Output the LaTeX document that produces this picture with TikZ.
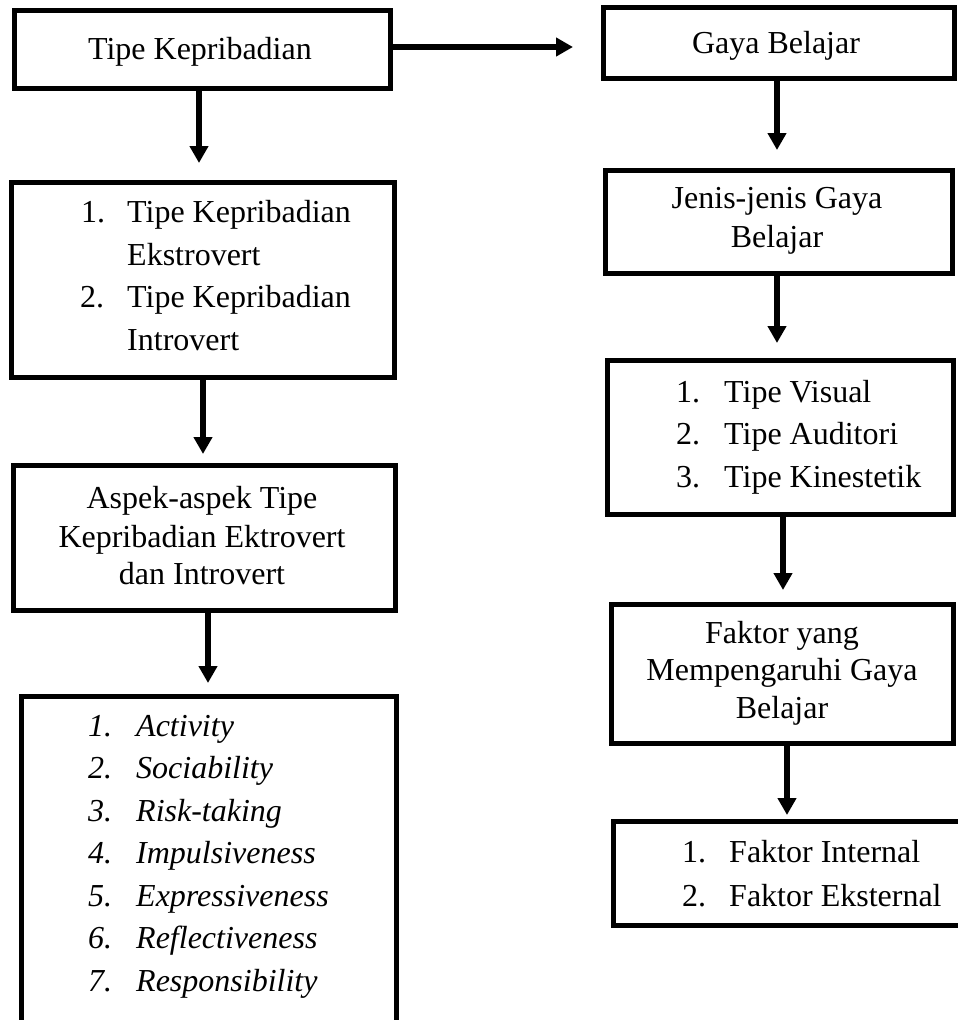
\documentclass[tikz,border=0pt]{standalone}
\usepackage{fontspec}
\setmainfont{Liberation Serif}
\usetikzlibrary{arrows.meta}
\tikzset{
  box/.style={draw=black, line width=5pt, inner sep=0pt},
  txt/.style={inner sep=0pt, font=\fontsize{32}{38}\selectfont},
  itxt/.style={inner sep=0pt, font=\fontsize{32}{38}\selectfont\itshape},
  arr/.style={line width=5.5pt, -{Triangle[width=18pt,length=17pt]}}
}
\begin{document}
\begin{tikzpicture}[x=1pt,y=-1pt]
\path[use as bounding box, fill=white] (0,0) rectangle (958,1020);

% left column boxes
\node[box, minimum width=376pt, minimum height=78pt] (b1) at (202.5,49.5) {};
\node[box, minimum width=383pt, minimum height=195pt] (b2) at (203,280) {};
\node[box, minimum width=382pt, minimum height=145pt] (b3) at (204.5,538) {};
\node[box, minimum width=375pt, minimum height=353.5pt] (b4) at (209,873.25) {};

% right column boxes
\node[box, minimum width=351pt, minimum height=71pt] (g1) at (779,43) {};
\node[box, minimum width=347pt, minimum height=103pt] (g2) at (779,222) {};
\node[box, minimum width=346pt, minimum height=154pt] (g3) at (780.5,437.5) {};
\node[box, minimum width=342pt, minimum height=139pt] (g4) at (782.5,674) {};
\node[box, minimum width=400pt, minimum height=104pt] (g5) at (813.5,873.5) {};

% texts, left column
\node[txt, anchor=base] (t1) at (200,59) {Tipe Kepribadian};

\node[txt, anchor=base west] (t2a) at (81,222) {1.};
\node[txt, anchor=base west] (t2b) at (127,222) {Tipe Kepribadian};
\node[txt, anchor=base west] (t2c) at (127,265) {Ekstrovert};
\node[txt, anchor=base west] (t2d) at (80,307) {2.};
\node[txt, anchor=base west] (t2e) at (127,307) {Tipe Kepribadian};
\node[txt, anchor=base west] (t2f) at (127,350) {Introvert};

\node[txt, anchor=base] (t3a) at (202,508) {Aspek-aspek Tipe};
\node[txt, anchor=base] (t3b) at (202,547) {Kepribadian Ektrovert};
\node[txt, anchor=base] (t3c) at (202,584) {dan Introvert};

\node[itxt, anchor=base west] (n41) at (88,736) {1.};
\node[itxt, anchor=base west] (t41) at (136,736) {Activity};
\node[itxt, anchor=base west] (n42) at (88,778) {2.};
\node[itxt, anchor=base west] (t42) at (136,778) {Sociability};
\node[itxt, anchor=base west] (n43) at (88,821) {3.};
\node[itxt, anchor=base west] (t43) at (136,821) {Risk-taking};
\node[itxt, anchor=base west] (n44) at (88,863) {4.};
\node[itxt, anchor=base west] (t44) at (136,863) {Impulsiveness};
\node[itxt, anchor=base west] (n45) at (88,906) {5.};
\node[itxt, anchor=base west] (t45) at (136,906) {Expressiveness};
\node[itxt, anchor=base west] (n46) at (88,948) {6.};
\node[itxt, anchor=base west] (t46) at (136,948) {Reflectiveness};
\node[itxt, anchor=base west] (n47) at (88,991) {7.};
\node[itxt, anchor=base west] (t47) at (136,991) {Responsibility};

% texts, right column
\node[txt, anchor=base] (s1) at (776,53) {Gaya Belajar};

\node[txt, anchor=base] (s2a) at (777,208) {Jenis-jenis Gaya};
\node[txt, anchor=base] (s2b) at (777,247) {Belajar};

\node[txt, anchor=base west] (n31) at (676,402) {1.};
\node[txt, anchor=base west] (s31) at (724,402) {Tipe Visual};
\node[txt, anchor=base west] (n32) at (676,444) {2.};
\node[txt, anchor=base west] (s32) at (724,444) {Tipe Auditori};
\node[txt, anchor=base west] (n33) at (676,487) {3.};
\node[txt, anchor=base west] (s33) at (724,487) {Tipe Kinestetik};

\node[txt, anchor=base] (s4a) at (782,643) {Faktor yang};
\node[txt, anchor=base] (s4b) at (782,680) {Mempengaruhi Gaya};
\node[txt, anchor=base] (s4c) at (782,718) {Belajar};

\node[txt, anchor=base west] (n51) at (682,862) {1.};
\node[txt, anchor=base west] (s51) at (729,862) {Faktor Internal};
\node[txt, anchor=base west] (n52) at (682,906) {2.};
\node[txt, anchor=base west] (s52) at (729,906) {Faktor Eksternal};

% connectors
\draw[arr, shorten >=17pt] ([xshift=-3.5pt]b1.south) -- ([xshift=-3.5pt]b1.south |- b2.north);
\draw[arr, shorten >=28pt] ([yshift=2.5pt]b1.east) -- ([yshift=2.5pt]b1.east -| g1.west);
\draw[arr, shorten >=9pt] (b2.south) -- (b2.south |- b3.north);
\draw[arr, shorten >=11pt] ([xshift=3.5pt]b3.south) -- ([xshift=3.5pt]b3.south |- b4.north);
\draw[arr, shorten >=18pt] ([xshift=-2pt]g1.south) -- ([xshift=-2pt]g1.south |- g2.north);
\draw[arr, shorten >=15pt] ([xshift=-2pt]g2.south) -- ([xshift=-2pt]g2.south |- g3.north);
\draw[arr, shorten >=12pt] ([xshift=2.5pt]g3.south) -- ([xshift=2.5pt]g3.south |- g4.north);
\draw[arr, shorten >=4pt] ([xshift=4.5pt]g4.south) -- ([xshift=4.5pt]g4.south |- g5.north);
\end{tikzpicture}
\end{document}
